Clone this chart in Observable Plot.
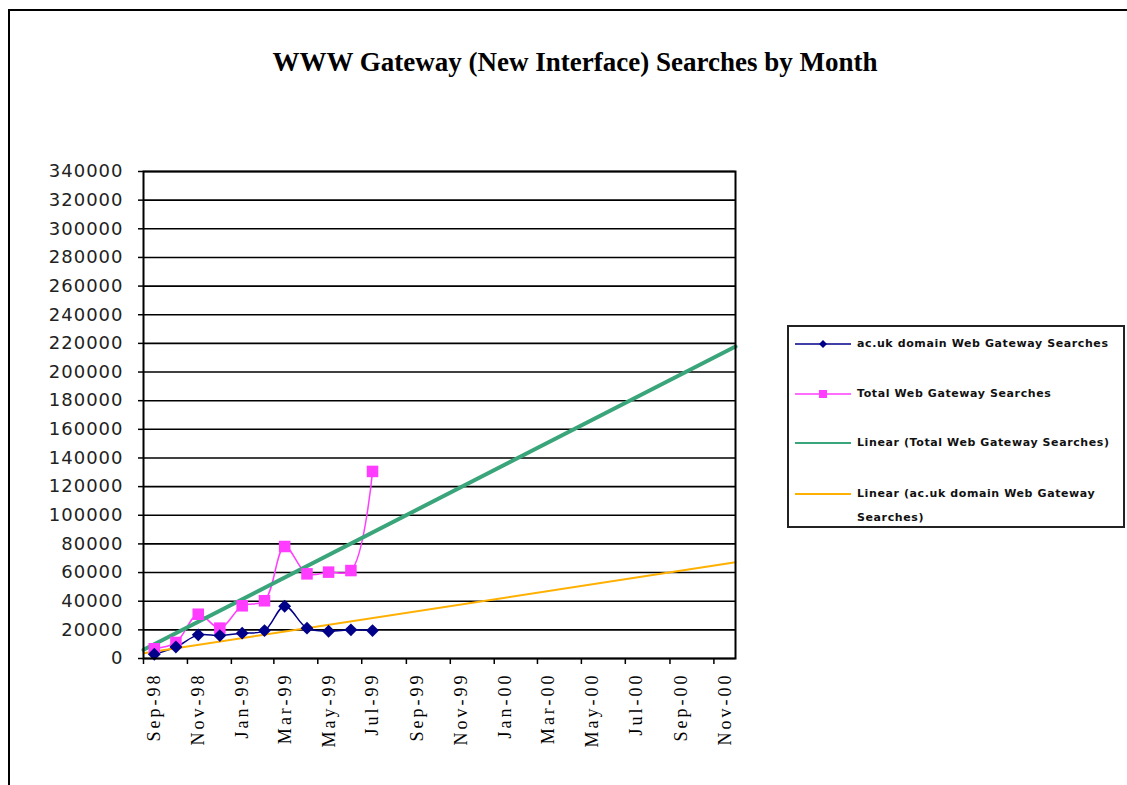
<!DOCTYPE html>
<html><head><meta charset="utf-8">
<script src="https://cdn.jsdelivr.net/npm/d3@7"></script>
<script src="https://cdn.jsdelivr.net/npm/@observablehq/plot@0.6"></script>
<style>
html,body{margin:0;padding:0;background:#fff;overflow:hidden;}
#wrap{position:relative;width:1127px;height:785px;overflow:hidden;}
#border{position:absolute;left:8px;top:9px;width:1200px;height:900px;border-top:2px solid #000;border-left:2px solid #000;}
#title{position:relative;height:140px;}
#title span{position:absolute;left:0;width:1150px;text-align:center;top:47px;line-height:1;font:bold 27px "Liberation Serif",serif;color:#000;}
#chart{position:relative;}
#legend{position:absolute;left:787px;top:325px;width:334px;height:199px;border:2px solid #222;background:#fff;font:bold 11px "DejaVu Sans",sans-serif;letter-spacing:0.6px;color:#111;}
#legend .row{position:absolute;left:6px;display:flex;align-items:flex-start;}
#legend .row svg{flex:none;}
#legend .row div{margin-left:6px;width:262px;line-height:24px;}
g[aria-label="x-axis tick label"] text{letter-spacing:3px;}
g[aria-label="y-axis tick label"] text{letter-spacing:1px;}
</style></head>
<body>
<div id="wrap">
  <div id="border"></div>
  <div id="title"><span>WWW Gateway (New Interface) Searches by Month</span></div>
  <div id="chart"></div>
  <div id="legend"></div>
</div>
<script>
// ---- data ----
const months = ["Sep-98","Oct-98","Nov-98","Dec-98","Jan-99","Feb-99","Mar-99","Apr-99","May-99","Jun-99","Jul-99"];
const acukSearches = [3000, 8000, 16500, 16000, 17700, 19500, 36500, 21200, 19000, 20000, 19500];
const totalSearches = [6800, 11200, 30900, 21200, 36800, 40300, 78200, 59100, 60300, 61400, 130600];
// trend lines (linear), values read at the start of the axis and at its end
const trendAt = ["Sep-98", "Dec-00"];
const trendTotal = [6100, 217800];
const trendAcuk = [3600, 67200];
const axisRange = ["Sep-98", "Dec-00"];
const xTickLabels = ["Sep-98","Nov-98","Jan-99","Mar-99","May-99","Jul-99","Sep-99","Nov-99","Jan-00","Mar-00","May-00","Jul-00","Sep-00","Nov-00"];
const yTicks = [0,20000,40000,60000,80000,100000,120000,140000,160000,180000,200000,220000,240000,260000,280000,300000,320000,340000];
const seriesNames = ["ac.uk domain Web Gateway Searches","Total Web Gateway Searches","Linear (Total Web Gateway Searches)","Linear (ac.uk domain Web Gateway Searches)"];
const colors = {acuk:"#000088", total:"#ff3cff", trendTotal:"#3aa57a", trendAcuk:"#ffb000"};

// ---- build ----
const parse = d3.utcParse("%b-%y");
const mid = s => d3.utcDay.offset(parse(s), 15);
const acData = months.map((m,i) => ({date: mid(m), value: acukSearches[i]}));
const totData = months.map((m,i) => ({date: mid(m), value: totalSearches[i]}));
const trTot = trendAt.map((m,i) => ({date: parse(m), value: trendTotal[i]}));
const trAc = trendAt.map((m,i) => ({date: parse(m), value: trendAcuk[i]}));
const xTicks = xTickLabels.map(parse);

const chart = Plot.plot({
  width: 1127, height: 645,
  marginLeft: 143, marginRight: 392, marginTop: 31, marginBottom: 127,
  style: {background: "transparent", overflow: "visible"},
  x: {type: "utc", domain: axisRange.map(parse), label: null},
  y: {domain: [0, 340000], label: null},
  marks: [
    Plot.gridY(yTicks, {stroke: "#000", strokeOpacity: 1, strokeWidth: 1.6}),
    Plot.line(totData, {x: "date", y: "value", curve: "catmull-rom", stroke: colors.total, strokeWidth: 1.5}),
    Plot.line(acData, {x: "date", y: "value", curve: "catmull-rom", stroke: colors.acuk, strokeWidth: 1.5}),
    Plot.line(trAc, {x: "date", y: "value", stroke: colors.trendAcuk, strokeWidth: 2}),
    Plot.line(trTot, {x: "date", y: "value", stroke: colors.trendTotal, strokeWidth: 4}),
    Plot.dot(totData, {x: "date", y: "value", symbol: "square", r: 6.5, fill: colors.total, stroke: "none"}),
    Plot.dot(acData, {x: "date", y: "value", symbol: "diamond2", r: 5.8, fill: colors.acuk, stroke: "none"}),
    Plot.frame({stroke: "#000", strokeWidth: 2}),
    Plot.axisY(yTicks, {tickSize: 5, tickPadding: 15, tickFormat: d3.format("d"), label: null, fontSize: 18, fontFamily: "DejaVu Sans", fill: "#222", stroke: "#000", strokeWidth: 1.5}),
    Plot.axisX(xTicks, {tickSize: 6, tickFormat: () => "", label: null, stroke: "#000", strokeWidth: 1.5}),
    Plot.axisX(xTicks, {tickSize: 0, tickPadding: 14, tickFormat: d3.utcFormat("%b-%y"), label: null, tickRotate: -90, dx: 11, fontSize: 18, fontFamily: "Liberation Serif", fill: "#000"})
  ]
});
document.getElementById("chart").appendChild(chart);

// ---- legend ----
const legend = document.getElementById("legend");
const rowTops = [5, 55, 104, 155];
const swatch = [
  {color: colors.acuk, sym: "diamond", w: 1.5},
  {color: colors.total, sym: "square", w: 1.5},
  {color: colors.trendTotal, sym: null, w: 2},
  {color: colors.trendAcuk, sym: null, w: 2}
];
seriesNames.forEach((name, i) => {
  const row = document.createElement("div");
  row.className = "row";
  row.style.top = rowTops[i] + "px";
  const s = swatch[i];
  let marker = "";
  if (s.sym === "diamond") marker = `<path d="M28,8 L32,12 L28,16 L24,12 Z" fill="${s.color}"/>`;
  if (s.sym === "square") marker = `<rect x="24" y="8" width="8" height="8" fill="${s.color}"/>`;
  row.innerHTML = `<svg width="56" height="24"><line x1="0" x2="56" y1="12" y2="12" stroke="${s.color}" stroke-width="${s.w}"/>${marker}</svg><div>${name}</div>`;
  legend.appendChild(row);
});
</script>
</body></html>
